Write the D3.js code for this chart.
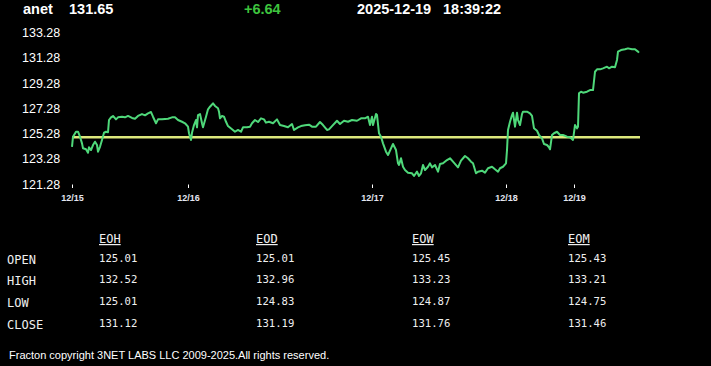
<!DOCTYPE html>
<html>
<head>
<meta charset="utf-8">
<script src="https://cdn.jsdelivr.net/npm/d3@7/dist/d3.min.js"></script>
<style>
  html, body { margin: 0; padding: 0; background: #000; }
  svg { display: block; }
</style>
</head>
<body>
<div id="graph"></div>
<script>
// header
var symbol = "anet";
var lastPrice = 131.65;
var change = "+6.64";
var stampDate = "2025-12-19";
var stampTime = "18:39:22";
var prevClose = 125.01;

// y axis labels
var yTicks = [133.28, 131.28, 129.28, 127.28, 125.28, 123.28, 121.28];

// x axis: bar number where each session starts
var dayBars = [0, 116, 300, 434, 502];
var dayLabels = ["12/15", "12/16", "12/17", "12/18", "12/19"];

// intraday series (bar number, price)
var bars = [0,1,4,6,8,10,11,14,16,17,19,21,23,25,26,28,30,32,34,36,
  37,39,41,44,46,50,53,56,60,63,66,70,73,76,79,81,84,86,90,93,
  96,100,103,106,110,113,116,117,119,120,122,124,125,126,128,130,131,134,136,138,
  141,143,146,147,148,150,152,154,156,160,163,166,169,171,175,178,180,183,186,189,
  192,194,197,201,205,208,212,216,220,222,226,229,233,237,240,244,248,251,255,257,
  260,265,268,272,276,280,285,289,293,296,298,300,301,304,305,307,309,311,314,316,
  319,321,324,326,327,329,331,333,336,340,342,345,347,349,351,353,356,358,360,363,
  366,368,371,375,378,381,386,389,393,396,399,401,404,406,410,413,416,420,423,426,
  428,431,434,435,436,438,440,441,443,445,446,448,450,451,455,458,460,462,465,467,
  470,472,475,477,478,480,482,485,488,491,495,498,501,503,505,506,507,509,511,515,
  518,521,523,525,528,531,535,537,540,543,545,546,549,553,556,560,563,566,567];
var prices = [124.25,125.05,125.44,125.44,125.05,124.52,124.13,124.05,123.78,124.21,123.99,124.39,124.65,124.39,123.86,124.25,124.79,125.36,125.44,125.40,
  126.37,126.58,126.69,126.42,126.58,126.63,126.58,126.69,126.53,126.47,126.69,126.84,126.74,126.90,127.00,126.63,126.11,126.42,126.42,126.45,
  126.47,126.58,126.58,126.37,126.23,126.11,125.84,125.32,124.79,125.36,125.97,126.37,125.79,126.76,126.84,126.11,125.79,126.63,127.22,127.42,
  127.69,127.48,127.30,127.03,126.50,126.69,126.63,126.23,125.89,125.63,125.44,125.58,125.44,125.79,125.79,125.84,126.11,126.37,126.21,126.50,
  126.42,126.16,126.23,126.11,126.42,125.97,125.89,125.79,126.05,125.58,125.79,125.89,125.95,126.00,125.84,125.84,126.21,125.97,125.58,125.63,
  125.89,126.31,126.05,126.31,126.23,126.37,126.31,126.50,126.50,126.63,125.97,126.63,125.97,126.84,126.76,125.32,125.05,124.52,123.86,123.60,
  124.13,124.47,123.99,122.94,122.81,123.34,122.67,122.41,122.20,122.15,121.94,122.28,121.94,122.15,122.81,122.41,122.67,122.94,122.62,122.81,
  122.28,122.89,122.94,123.20,123.34,123.07,122.62,123.15,123.52,123.34,123.07,122.94,122.15,122.28,122.36,122.20,122.55,122.67,122.47,122.28,
  122.55,122.67,122.94,123.99,125.58,126.23,126.76,126.95,125.84,126.95,126.37,125.97,126.84,127.03,127.03,126.90,126.69,125.71,125.52,125.18,
  124.92,124.47,124.39,124.21,124.05,125.18,125.32,125.44,125.18,125.18,125.05,125.00,124.79,125.97,125.71,125.84,128.48,128.61,128.53,128.61,
  128.74,128.74,130.19,130.38,130.38,130.46,130.59,130.46,130.59,130.54,131.12,131.78,131.91,131.97,132.04,131.97,131.97,131.78,131.70];

// summary table
var tableCols = ["EOH", "EOD", "EOW", "EOM"];
var rowLabels = ["OPEN", "HIGH", "LOW", "CLOSE"];
var eoh = ["125.01", "132.52", "125.01", "131.12"];
var eod = ["125.01", "132.96", "124.83", "131.19"];
var eow = ["125.45", "133.23", "124.87", "131.76"];
var eom = ["125.43", "133.21", "124.75", "131.46"];

var footer = "Fracton copyright 3NET LABS LLC 2009-2025.All rights reserved.";

var W = 711, H = 366;
var sans = "Arial, 'Liberation Sans', sans-serif";
var mono = "'DejaVu Sans Mono', monospace";

var svg = d3.select("#graph").append("svg")
  .attr("width", W).attr("height", H)
  .style("background", "#000");

// header line
var head = svg.append("g").style("font-family", sans).style("font-weight", "bold").style("font-size", "14.5px");
head.append("text").attr("x", 23).attr("y", 14).attr("fill", "#fff").text(symbol);
head.append("text").attr("x", 69).attr("y", 14).attr("fill", "#fff").text(d3.format(".2f")(lastPrice));
head.append("text").attr("x", 244).attr("y", 14).attr("fill", "#3ec43e").text(change);
head.append("text").attr("x", 357).attr("y", 14).attr("fill", "#fff").text(stampDate);
head.append("text").attr("x", 443).attr("y", 14).attr("fill", "#fff").text(stampTime);

// scales
var x = d3.scaleLinear().domain([0, 567]).range([72, 639]);
var y = d3.scaleLinear().domain([121.28, 133.28]).range([184.3, 32.7]);

// y labels
svg.append("g").selectAll("text")
  .data(yTicks).enter().append("text")
  .attr("x", 22)
  .attr("y", function(d) { return y(d); })
  .attr("dy", "0.35em")
  .style("font-family", sans)
  .style("font-size", "12.5px")
  .attr("fill", "#fff")
  .text(function(d) { return d3.format(".2f")(d); });

// x ticks
var xt = svg.append("g").selectAll("g")
  .data(dayBars).enter().append("g")
  .attr("transform", function(d) { return "translate(" + (Math.round(x(d)) + 0.5) + ",0)"; });
xt.append("line").attr("y1", 184.5).attr("y2", 188).attr("stroke", "#fff").attr("stroke-width", 1);
xt.append("text")
  .attr("y", 201)
  .attr("text-anchor", "middle")
  .style("font-family", sans)
  .style("font-size", "9px")
  .style("font-weight", "bold")
  .attr("fill", "#e4e6f0")
  .text(function(d, i) { return dayLabels[i]; });

// previous close reference
svg.append("line")
  .attr("x1", x(0)).attr("x2", x(567) + 1)
  .attr("y1", y(prevClose)).attr("y2", y(prevClose))
  .attr("stroke", "#dde87c").attr("stroke-width", 2.5);

// price line
var series = bars.map(function(b, i) { return {bar: b, price: prices[i]}; });
var line = d3.line()
  .x(function(d) { return x(d.bar); })
  .y(function(d) { return y(d.price); });
svg.append("path")
  .datum(series)
  .attr("d", line)
  .attr("fill", "none")
  .attr("stroke", "#4fd87a")
  .attr("stroke-width", 2)
  .attr("stroke-linejoin", "round");

// table
var colX = [99, 256, 412, 568];
var rowY = [262, 283, 305, 327];
var colVals = [eoh, eod, eow, eom];
var tbl = svg.append("g").style("font-family", mono).attr("fill", "#f0f0f0");

tbl.selectAll(".hdr").data(tableCols).enter().append("text")
  .attr("class", "hdr")
  .attr("x", function(d, i) { return colX[i]; })
  .attr("y", 243)
  .style("font-size", "12px")
  .style("text-decoration", "underline")
  .text(function(d) { return d; });

tbl.selectAll(".lbl").data(rowLabels).enter().append("text")
  .attr("class", "lbl")
  .attr("x", 7)
  .attr("y", function(d, i) { return rowY[i] + 2; })
  .style("font-size", "12px")
  .text(function(d) { return d; });

colVals.forEach(function(vals, c) {
  tbl.selectAll(".v" + c).data(vals).enter().append("text")
    .attr("class", "v" + c)
    .attr("x", colX[c])
    .attr("y", function(d, i) { return rowY[i]; })
    .style("font-size", "10.6px")
    .text(function(d) { return d; });
});

// footer
svg.append("text")
  .attr("x", 9).attr("y", 359)
  .style("font-family", sans)
  .style("font-size", "11px")
  .attr("fill", "#fff")
  .text(footer);
</script>
</body>
</html>
